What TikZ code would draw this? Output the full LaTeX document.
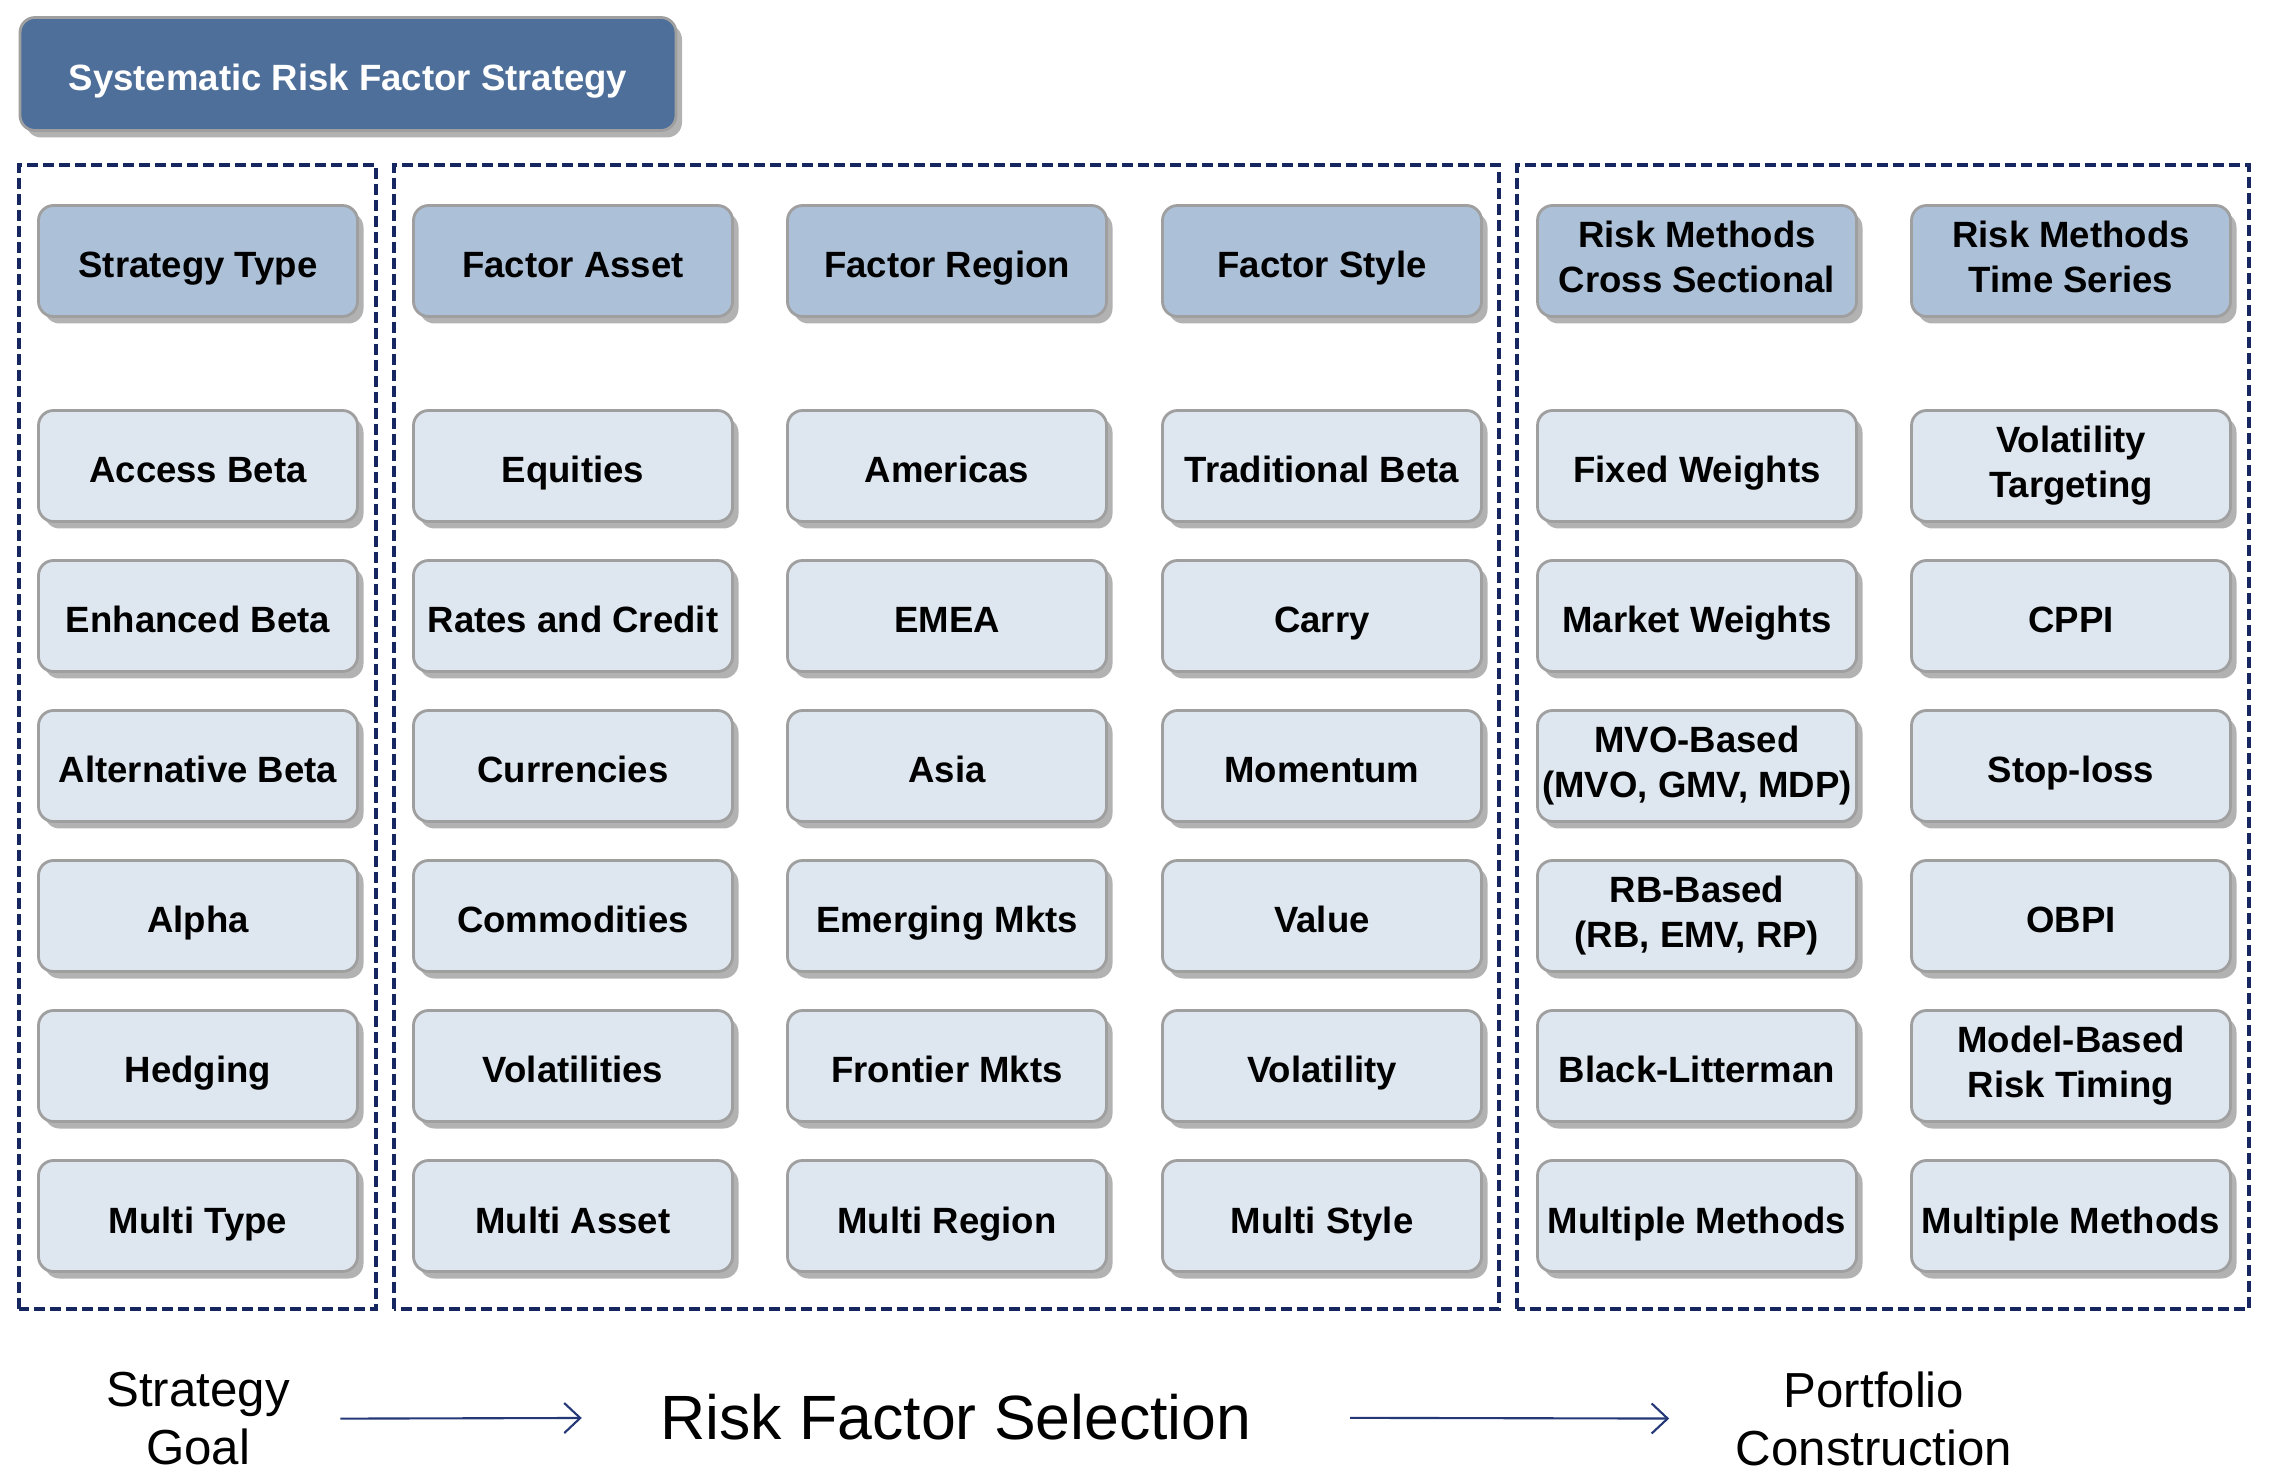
\documentclass[tikz,border=0pt]{standalone}
\usepackage{fontspec}
\setmainfont{Liberation Sans}
\usetikzlibrary{positioning,shadows,arrows.meta}

\definecolor{titleblue}{RGB}{78,111,154}
\definecolor{headblue}{RGB}{172,192,215}
\definecolor{itemblue}{RGB}{222,230,239}
\definecolor{framenavy}{RGB}{22,38,96}
\definecolor{arrownavy}{RGB}{36,56,120}
\newcommand\tilestrut{\rule[-0.08cm]{0pt}{0.50cm}}

\begin{document}
\begin{tikzpicture}[
    tile/.style={draw=gray!75, line width=0.8pt, rounded corners=0.15cm, minimum width=3.19cm, minimum height=1.11cm, inner xsep=0.5pt, inner ysep=1pt, outer sep=0pt, align=center, font=\fontsize{10.4}{12.8}\selectfont\bfseries, execute at begin node=\tilestrut, execute at end node=\tilestrut, drop shadow={shadow xshift=0.06cm, shadow yshift=-0.07cm, fill=black, opacity=0.3}},
    head/.style={tile, fill=headblue},
    item/.style={tile, fill=itemblue},
    banner/.style={tile, fill=titleblue, text=white, minimum width=6.56cm, minimum height=1.13cm},
    group/.style={draw=framenavy, line width=0.9pt, dash pattern=on 0.11cm off 0.05cm},
    stage/.style={inner sep=0pt, align=center, font=\fontsize{14}{16.5}\selectfont},
    flow/.style={-{Straight Barb[length=0.16cm, width=0.3cm]}, line width=0.6pt, draw=arrownavy},
    node distance=0.39cm,
]
\useasboundingbox (0,0) rectangle (22.71,14.77);

\node[banner] (title) at (3.48, 14.03) {Systematic Risk Factor Strategy};

% Groups
\draw[group] (0.19,1.68) rectangle (3.76,13.12);
\draw[group] (3.94,1.68) rectangle (14.99,13.12);
\draw[group] (15.17,1.68) rectangle (22.49,13.12);

% Strategy type
\node[head] (stype) at (1.98, 12.16) {Strategy Type};
\node[item, below=0.94cm of stype] (access) {Access Beta};
\node[item, below=of access] (enhanced) {Enhanced Beta};
\node[item, below=of enhanced] (alternative) {Alternative Beta};
\node[item, below=of alternative] (alpha) {Alpha};
\node[item, below=of alpha] (hedging) {Hedging};
\node[item, below=of hedging] (multitype) {Multi Type};

% Factor asset
\node[head] (fasset) at (5.73, 12.16) {Factor Asset};
\node[item, below=0.94cm of fasset] (equities) {Equities};
\node[item, below=of equities] (rates) {Rates and Credit};
\node[item, below=of rates] (currencies) {Currencies};
\node[item, below=of currencies] (commodities) {Commodities};
\node[item, below=of commodities] (vols) {Volatilities};
\node[item, below=of vols] (multiasset) {Multi Asset};

% Factor region
\node[head] (fregion) at (9.47, 12.16) {Factor Region};
\node[item, below=0.94cm of fregion] (americas) {Americas};
\node[item, below=of americas] (emea) {EMEA};
\node[item, below=of emea] (asia) {Asia};
\node[item, below=of asia] (emerging) {Emerging Mkts};
\node[item, below=of emerging] (frontier) {Frontier Mkts};
\node[item, below=of frontier] (multiregion) {Multi Region};

% Factor style
\node[head] (fstyle) at (13.22, 12.16) {Factor Style};
\node[item, below=0.94cm of fstyle] (tradbeta) {Traditional Beta};
\node[item, below=of tradbeta] (carry) {Carry};
\node[item, below=of carry] (momentum) {Momentum};
\node[item, below=of momentum] (value) {Value};
\node[item, below=of value] (volatility) {Volatility};
\node[item, below=of volatility] (multistyle) {Multi Style};

% Risk methods, cross sectional
\node[head] (rmcross) at (16.97, 12.16) {Risk Methods\\Cross Sectional};
\node[item, below=0.94cm of rmcross] (fixedw) {Fixed Weights};
\node[item, below=of fixedw] (marketw) {Market Weights};
\node[item, below=of marketw] (mvo) {MVO-Based\\(MVO, GMV, MDP)};
\node[item, below=of mvo] (rbbased) {RB-Based\\(RB, EMV, RP)};
\node[item, below=of rbbased] (blacklit) {Black-Litterman};
\node[item, below=of blacklit] (multics) {Multiple Methods};

% Risk methods, time series
\node[head] (rmtime) at (20.71, 12.16) {Risk Methods\\Time Series};
\node[item, below=0.94cm of rmtime] (voltarget) {Volatility\\Targeting};
\node[item, below=of voltarget] (cppi) {CPPI};
\node[item, below=of cppi] (stoploss) {Stop-loss};
\node[item, below=of stoploss] (obpi) {OBPI};
\node[item, below=of obpi] (modelbased) {Model-Based\\Risk Timing};
\node[item, below=of modelbased] (multits) {Multiple Methods};

% Stages
\node[stage] (goal) at (1.98, 0.58) {Strategy\\Goal};
\node[stage, font=\fontsize{17.8}{21}\selectfont] (selection) at (9.56, 0.60) {Risk Factor Selection};
\node[stage] (portfolio) at (18.74, 0.58) {Portfolio\\Construction};

\draw[flow, shorten <=0.50cm, shorten >=0.78cm] (goal) -- (selection);
\draw[flow, shorten <=0.98cm, shorten >=0.66cm] (selection) -- (portfolio);

\end{tikzpicture}
\end{document}
